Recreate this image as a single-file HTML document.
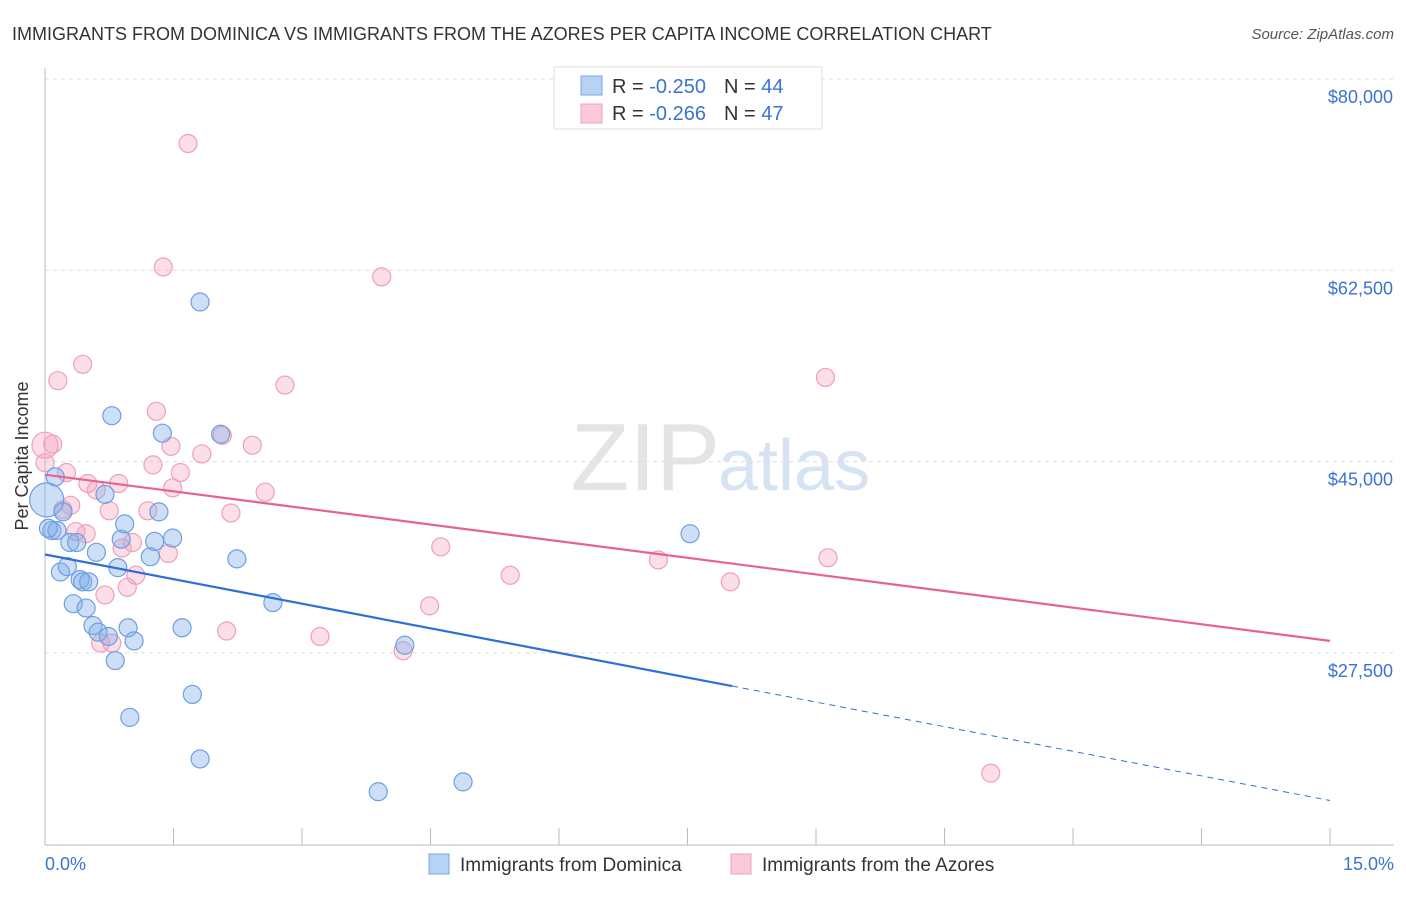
<!DOCTYPE html>
<html><head><meta charset="utf-8"><style>
body{margin:0;background:#fff;font-family:"Liberation Sans",sans-serif;}
svg text{font-family:"Liberation Sans",sans-serif;}
</style></head><body>
<svg id="chart" width="1406" height="892" xmlns="http://www.w3.org/2000/svg">
<text x="12" y="40" font-size="18" fill="#333">IMMIGRANTS FROM DOMINICA VS IMMIGRANTS FROM THE AZORES PER CAPITA INCOME CORRELATION CHART</text>
<text x="1394" y="39" font-size="15" fill="#555" font-style="italic" text-anchor="end">Source: ZipAtlas.com</text>
<text x="720" y="490" font-size="96" fill="#e4e4e4" text-anchor="end" font-family="Liberation Serif">ZIP</text>
<text x="718" y="490" font-size="72" fill="#d6e3f3">atlas</text>
<g id="grid"></g>
<line x1="45" y1="68" x2="45" y2="845" stroke="#bbb"/>
<line x1="45" y1="845" x2="1394" y2="845" stroke="#bbb"/>
<g id="xticks"></g>
<text x="28" y="456" font-size="18" fill="#333" text-anchor="middle" transform="rotate(-90 28 456)">Per Capita Income</text>
<text x="45" y="870" font-size="18" fill="#3b73d4">0.0%</text>
<text x="1394" y="870" font-size="18" fill="#3b73d4" text-anchor="end">15.0%</text>
<g id="points"></g>
<g id="lines"></g>
<g>
<rect x="554" y="67" width="268" height="62" fill="#fff" stroke="#ddd"/>
<rect x="581" y="76" width="21" height="19" fill="#b8d2f5" stroke="#7aa6e0"/>
<rect x="581" y="104" width="21" height="19" fill="#fcc9d8" stroke="#eea0b8"/>
<text x="612" y="93" font-size="20" fill="#333">R = <tspan fill="#3b73d4">-0.250</tspan><tspan dx="18">N = </tspan><tspan fill="#3b73d4">44</tspan></text>
<text x="612" y="120" font-size="20" fill="#333">R = <tspan fill="#3b73d4">-0.266</tspan><tspan dx="18">N = </tspan><tspan fill="#3b73d4">47</tspan></text>
</g>
<g>
<rect x="429" y="854" width="20" height="20" fill="#b8d2f5" stroke="#7aa6e0"/>
<text x="460" y="871" font-size="19" fill="#333">Immigrants from Dominica</text>
<rect x="731" y="854" width="20" height="20" fill="#fcc9d8" stroke="#eea0b8"/>
<text x="762" y="871" font-size="19" fill="#333">Immigrants from the Azores</text>
</g>
</svg>
<script>
const yTicks=[80000,62500,45000,27500];
const yTickLabels=["$80,000","$62,500","$45,000","$27,500"];
const xTicks=[0,1.5,3,4.5,6,7.5,9,10.5,12,13.5,15];
const blueX=[0.02,0.12,0.08,0.14,0.21,0.18,0.26,0.29,0.33,0.37,0.41,0.44,0.48,0.51,0.60,0.56,0.62,0.70,0.74,0.78,0.82,0.85,0.89,0.93,0.97,0.99,1.04,1.23,1.28,1.33,1.37,1.49,1.60,1.72,1.81,1.81,2.05,2.24,2.66,3.89,4.20,4.88,7.53,0.04];
const blueY=[41500,43600,38700,38700,40400,34900,35400,37600,32000,37600,34200,34000,31600,34000,36700,30000,29400,42000,29000,49200,26800,35300,37900,39300,29800,21600,28600,36300,37700,40400,47600,38000,29800,23700,59600,17800,47500,36100,32100,14800,28200,15700,38400,38900];
const pinkX=[0.0,0.0,0.09,0.15,0.21,0.25,0.30,0.36,0.44,0.48,0.50,0.60,0.65,0.70,0.75,0.78,0.86,0.90,0.96,1.02,1.06,1.20,1.26,1.30,1.38,1.44,1.47,1.49,1.58,1.67,1.83,2.07,2.12,2.17,2.42,2.57,2.80,3.21,3.93,4.18,4.49,4.62,5.43,7.16,8.00,9.11,9.14,11.04];
const pinkY=[46500,44900,46600,52400,40600,44000,41000,38600,53900,38400,43000,42400,28400,32800,40500,28400,43000,37100,33500,37600,34600,40500,44700,49600,62800,36600,46400,42600,44000,74100,45700,47400,29500,40300,46500,42200,52000,29000,61900,27700,31800,37200,34600,36000,34000,52700,36200,16500];
const blueTrend=[36500,14000,8.02];
const pinkTrend=[43800,28600];
const NS="http://www.w3.org/2000/svg";
const sx=v=>45+v/15*1285;
const sy=v=>79+(80000-v)/17500*191.3;
function mk(tag,attrs,parent){const e=document.createElementNS(NS,tag);for(const k in attrs)e.setAttribute(k,attrs[k]);parent.appendChild(e);return e;}
const grid=document.getElementById('grid');
yTicks.forEach((t,i)=>{
 const l=mk('line',{x1:45,x2:1394,y1:sy(t),y2:sy(t),stroke:'#ddd','stroke-dasharray':'4,4'},grid);
 
 
 const tx=mk('text',{x:1393,y:sy(t)+24,'font-size':18,fill:'#3b73d4','text-anchor':'end'},grid);
 tx.textContent=yTickLabels[i];
 
 
});
const xt=document.getElementById('xticks');
xTicks.forEach(t=>{
 const l=mk('line',{x1:sx(t),x2:sx(t),y1:828,y2:845,stroke:'#bbb'},xt);
 
 
});
const pts=document.getElementById('points');
pinkX.forEach((x,i)=>{
 const c=mk('circle',{cx:sx(x),cy:sy(pinkY[i]),r:i==0?13:9,fill:'rgba(244,160,188,0.35)',stroke:'#eea0b8','stroke-width':1.2},pts);
 
 
});
blueX.forEach((x,i)=>{
 const c=mk('circle',{cx:sx(x),cy:sy(blueY[i]),r:i==0?17:9,fill:'rgba(130,175,235,0.4)',stroke:'#6e9fe0','stroke-width':1.2},pts);
 
 
});
const ln=document.getElementById('lines');
const bAt=x=>blueTrend[0]+(blueTrend[1]-blueTrend[0])*x/15;
const pAt=x=>pinkTrend[0]+(pinkTrend[1]-pinkTrend[0])*x/15;
let l1=mk('line',{x1:sx(0),y1:sy(bAt(0)),x2:sx(blueTrend[2]),y2:sy(bAt(blueTrend[2])),stroke:'#2f6fd6','stroke-width':2.2},ln);


let l2=mk('line',{x1:sx(blueTrend[2]),y1:sy(bAt(blueTrend[2])),x2:sx(15),y2:sy(bAt(15)),stroke:'#2f6fd6','stroke-width':1,'stroke-dasharray':'6,5'},ln);


let l3=mk('line',{x1:sx(0),y1:sy(pAt(0)),x2:sx(15),y2:sy(pAt(15)),stroke:'#e8628e','stroke-width':2.2},ln);


</script>
</body></html>
